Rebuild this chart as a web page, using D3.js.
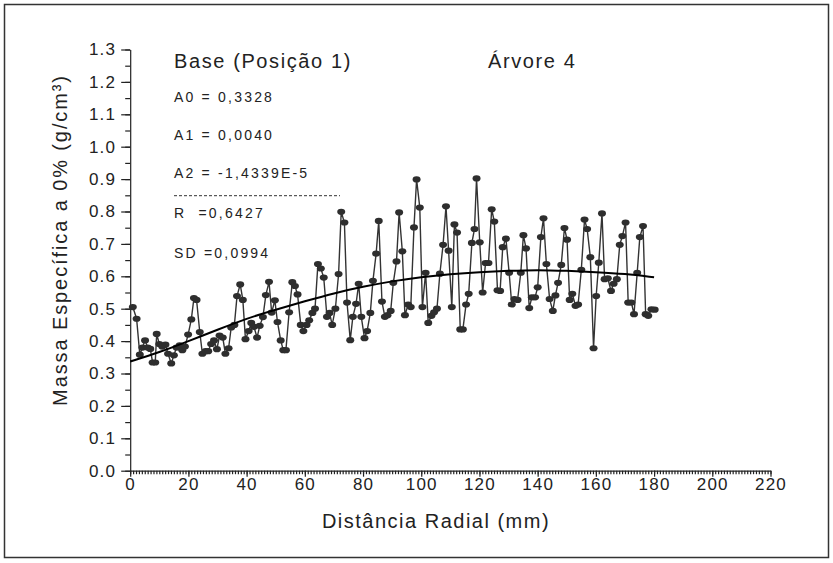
<!doctype html>
<html>
<head>
<meta charset="utf-8">
<script src="https://d3js.org/d3.v7.min.js"></script>
<style>
  body { margin: 0; background: #fff; }
  text { font-family: "Liberation Sans", Arial, sans-serif; fill: #222; }
</style>
</head>
<body>
<script>
  // distancia radial (mm) e massa especifica
  var distancias = [0.9,2.2,3.3,4.2,5.1,6.0,6.9,7.7,8.6,9.1,10.0,11.0,12.1,13.0,14.1,15.0,15.9,17.0,17.9,18.8,
    19.9,21.0,21.9,22.8,23.9,24.8,25.9,26.8,27.8,28.8,29.8,30.7,31.8,32.7,33.8,34.7,35.8,36.7,37.8,38.7,
    39.6,40.7,41.6,42.5,43.6,44.5,45.6,46.6,47.7,48.6,49.7,50.6,51.7,52.6,53.5,54.6,55.7,56.6,57.5,58.6,
    59.5,60.6,61.5,62.6,63.5,64.5,65.5,66.5,67.6,68.5,69.4,70.5,71.6,72.5,73.6,74.5,75.6,76.5,77.6,78.5,
    79.4,80.5,81.4,82.5,83.4,84.5,85.4,86.5,87.5,88.4,89.5,90.4,91.5,92.4,93.5,94.4,95.5,96.4,97.5,98.4,
    99.5,100.4,101.5,102.4,103.5,104.4,105.4,106.4,107.5,108.5,109.4,110.5,111.4,112.3,113.4,114.3,115.4,116.3,117.4,118.3,
    119.0,120.1,121.1,122.1,123.1,124.2,125.1,126.2,127.1,128.0,129.1,130.2,131.1,132.0,133.1,134.2,135.1,136.0,137.1,138.0,
    139.1,140.0,141.1,142.0,143.0,144.1,145.2,146.1,147.0,148.1,149.2,150.1,151.0,151.9,153.0,153.9,155.0,156.1,157.0,158.1,
    159.2,160.1,161.0,162.1,163.0,164.1,165.2,166.1,167.2,168.2,169.1,170.2,171.1,172.2,173.1,174.2,175.1,176.2,177.1,178.0,
    179.1,180.2];
  var massas = [0.505,0.469,0.358,0.38,0.402,0.38,0.376,0.334,0.334,0.422,0.391,0.383,0.389,0.361,0.331,0.356,0.38,0.387,0.372,0.383,
    0.42,0.467,0.533,0.527,0.428,0.361,0.369,0.369,0.391,0.402,0.375,0.417,0.411,0.361,0.378,0.442,0.45,0.539,0.575,0.527,
    0.406,0.431,0.456,0.444,0.411,0.447,0.474,0.542,0.583,0.488,0.526,0.459,0.402,0.372,0.372,0.489,0.582,0.57,0.544,0.45,
    0.431,0.45,0.464,0.487,0.5,0.638,0.624,0.596,0.475,0.487,0.45,0.5,0.607,0.799,0.766,0.519,0.403,0.475,0.515,0.577,
    0.475,0.409,0.431,0.487,0.586,0.67,0.771,0.522,0.475,0.48,0.493,0.58,0.646,0.797,0.677,0.48,0.513,0.505,0.751,0.899,
    0.812,0.505,0.611,0.456,0.478,0.489,0.5,0.608,0.697,0.816,0.679,0.505,0.76,0.735,0.436,0.436,0.513,0.546,0.703,0.746,
    0.902,0.705,0.55,0.641,0.641,0.807,0.769,0.557,0.555,0.69,0.716,0.611,0.513,0.53,0.527,0.611,0.727,0.686,0.502,0.535,
    0.535,0.566,0.721,0.779,0.638,0.53,0.493,0.541,0.58,0.635,0.749,0.713,0.527,0.546,0.509,0.513,0.62,0.775,0.746,0.659,
    0.378,0.539,0.642,0.794,0.591,0.594,0.555,0.577,0.591,0.697,0.724,0.766,0.519,0.519,0.483,0.611,0.721,0.755,0.483,0.478,
    0.498,0.497];

  // curva ajustada
  var ajusteX = [0,10,20,30,40,50,60,70,80,90,100,110,120,130,140,150,160,170,180];
  var ajusteY = [0.337,0.365,0.400,0.435,0.470,0.497,0.523,0.548,0.568,0.585,0.598,0.607,0.613,0.617,0.620,0.617,0.613,0.608,0.597];

  var xTicks = [0,20,40,60,80,100,120,140,160,180,200,220];
  var yTicks = [0,0.1,0.2,0.3,0.4,0.5,0.6,0.7,0.8,0.9,1.0,1.1,1.2,1.3];

  var titulo = "Base (Posição 1)";
  var arvore = "Árvore 4";
  var coeficientes = ["A0 = 0,3328", "A1 = 0,0040", "A2 = -1,4339E-5"];
  var estatisticas = ["R  =0,6427", "SD =0,0994"];

  var width = 833, height = 563;

  var x = d3.scaleLinear().domain([0, 220]).range([130.2, 770.5]);
  var y = d3.scaleLinear().domain([0, 1.3]).range([470.7, 49.5]);

  var svg = d3.select("body").append("svg")
      .attr("width", width)
      .attr("height", height);

  // moldura
  svg.append("rect")
    .attr("x", 4.5).attr("y", 4.5)
    .attr("width", 824).attr("height", 553)
    .attr("fill", "none").attr("stroke", "#333").attr("stroke-width", 1.5);

  // eixo y - minor ticks
  svg.append("g")
    .attr("transform", "translate(" + x(0) + ",0)")
    .call(d3.axisLeft(y).tickValues(d3.range(0, 1.301, 0.05)).tickSize(5).tickFormat(""))
    .call(function(g){ g.select(".domain").remove(); });

  svg.append("g")
    .attr("class", "yaxis")
    .attr("transform", "translate(" + x(0) + ",0)")
    .call(d3.axisLeft(y).tickValues(yTicks).tickSize(9).tickSizeOuter(0).tickPadding(5)
      .tickFormat(d3.format(".1f")));

  // eixo x - minor ticks a cada 1 mm
  svg.append("g")
    .attr("transform", "translate(0," + y(0) + ")")
    .call(d3.axisBottom(x).tickValues(d3.range(0, 221, 1)).tickSize(3.5).tickFormat(""))
    .call(function(g){ g.select(".domain").remove(); });

  svg.append("g")
    .attr("class", "xaxis")
    .attr("transform", "translate(0," + y(0) + ")")
    .call(d3.axisBottom(x).tickValues(xTicks).tickSize(6).tickSizeOuter(0).tickPadding(1));

  svg.selectAll(".tick line, .domain").attr("stroke", "#222").attr("stroke-width", 1.2);
  svg.selectAll(".yaxis text, .xaxis text")
    .style("font-size", "17px")
    .style("letter-spacing", "1.2px")
    .attr("fill", "#222");

  // serie de dados
  var pontos = distancias.map(function(d, i){ return [d, massas[i]]; });

  svg.append("path")
    .datum(pontos)
    .attr("fill", "none")
    .attr("stroke", "#333")
    .attr("stroke-width", 1.4)
    .attr("d", d3.line().x(function(d){ return x(d[0]); }).y(function(d){ return y(d[1]); }));

  svg.selectAll("ellipse.ponto")
    .data(pontos)
    .enter()
    .append("ellipse")
    .attr("class", "ponto")
    .attr("cx", function(d){ return x(d[0]); })
    .attr("cy", function(d){ return y(d[1]); })
    .attr("rx", 4)
    .attr("ry", 3.1)
    .attr("fill", "#2e2e2e");

  // curva ajustada
  svg.append("path")
    .datum(ajusteX.map(function(d, i){ return [d, ajusteY[i]]; }))
    .attr("fill", "none")
    .attr("stroke", "#000")
    .attr("stroke-width", 2)
    .attr("d", d3.line().curve(d3.curveBasis)
      .x(function(d){ return x(d[0]); }).y(function(d){ return y(d[1]); }));

  // textos
  svg.append("text").attr("x", 174).attr("y", 68)
    .style("font-size", "20px").style("letter-spacing", "1.6px").text(titulo);
  svg.append("text").attr("x", 488).attr("y", 68)
    .style("font-size", "20px").style("letter-spacing", "1.6px").text(arvore);

  svg.selectAll("text.coef")
    .data(coeficientes)
    .enter()
    .append("text")
    .attr("class", "coef")
    .attr("x", 174)
    .attr("y", function(d, i){ return 101.7 + i * 38.3; })
    .style("font-size", "14px").style("letter-spacing", "2.2px")
    .style("white-space", "pre")
    .text(function(d){ return d; });

  svg.append("line")
    .attr("x1", 174).attr("x2", 340)
    .attr("y1", 195.7).attr("y2", 195.7)
    .attr("stroke", "#333").attr("stroke-width", 1)
    .attr("stroke-dasharray", "3,2");

  svg.selectAll("text.est")
    .data(estatisticas)
    .enter()
    .append("text")
    .attr("class", "est")
    .attr("x", 174)
    .attr("y", function(d, i){ return 218.3 + i * 39.7; })
    .style("font-size", "14px").style("letter-spacing", "2.2px")
    .style("white-space", "pre")
    .text(function(d){ return d; });

  // rotulos dos eixos
  svg.append("text")
    .attr("text-anchor", "middle")
    .attr("x", 436).attr("y", 528)
    .style("font-size", "20px").style("letter-spacing", "1.5px")
    .text("Distância Radial (mm)");

  svg.append("text")
    .attr("text-anchor", "middle")
    .attr("transform", "translate(67,240) rotate(-90)")
    .style("font-size", "20px").style("letter-spacing", "1.9px")
    .text("Massa Específica a 0% (g/cm³)");
</script>
</body>
</html>
